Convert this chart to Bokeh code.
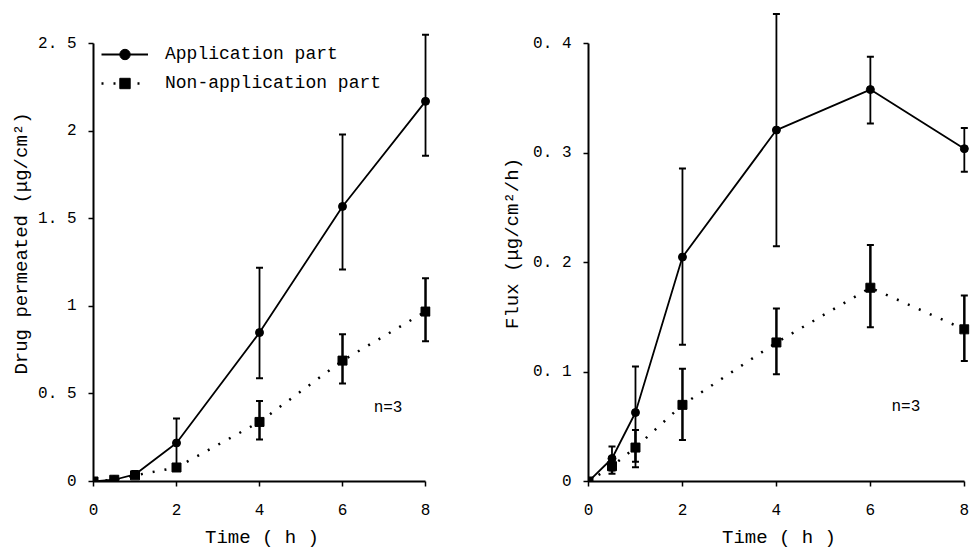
from bokeh.plotting import figure
from bokeh.models import (Range1d, FixedTicker, Whisker, TeeHead, ColumnDataSource,
                          Legend, LegendItem, Label)
from bokeh.layouts import row
from bokeh.embed import file_html
from bokeh.resources import INLINE

# ---- data ----
time = [0, 0.5, 1, 2, 4, 6, 8]

# cumulative drug permeated (ug/cm2)
perm_app = [0.0, 0.01, 0.04, 0.22, 0.85, 1.57, 2.17]
perm_app_hi = [0.0, 0.02, 0.06, 0.36, 1.22, 1.98, 2.55]
perm_app_lo = [0.0, 0.0, 0.02, 0.10, 0.59, 1.21, 1.86]
perm_non = [0.0, 0.01, 0.035, 0.08, 0.34, 0.69, 0.97]
perm_non_hi = [0.0, 0.02, 0.05, 0.10, 0.46, 0.84, 1.16]
perm_non_lo = [0.0, 0.0, 0.02, 0.06, 0.24, 0.56, 0.80]

# flux (ug/cm2/h)
flux_app = [0.0, 0.021, 0.063, 0.205, 0.321, 0.358, 0.304]
flux_app_hi = [0.0, 0.032, 0.105, 0.286, 0.427, 0.388, 0.323]
flux_app_lo = [0.0, 0.010, 0.013, 0.125, 0.215, 0.327, 0.283]
flux_non = [0.0, 0.014, 0.031, 0.070, 0.127, 0.177, 0.139]
flux_non_hi = [0.0, 0.022, 0.047, 0.103, 0.158, 0.216, 0.170]
flux_non_lo = [0.0, 0.007, 0.018, 0.038, 0.098, 0.141, 0.110]

x_ticks = [0, 2, 4, 6, 8]
perm_ticks = [0, 0.5, 1, 1.5, 2, 2.5]
perm_tick_labels = ["0", "0. 5", "1", "1. 5", "2", "2. 5"]
flux_ticks = [0, 0.1, 0.2, 0.3, 0.4]
flux_tick_labels = ["0", "0. 1", "0. 2", "0. 3", "0. 4"]

FONT = "Liberation Mono"


def make_panel(width, border_left, border_right, y_max, y_top, ticks, tick_labels,
               ylabel, ylabel_standoff, app, app_hi, app_lo, non, non_hi, non_lo,
               x_top, with_legend, n_x, n_y):
    p = figure(width=width, height=551, output_backend="svg", toolbar_location=None,
               min_border_left=border_left, min_border_right=border_right,
               min_border_top=5, min_border_bottom=70,
               x_range=Range1d(0, x_top), y_range=Range1d(0, y_top))
    p.outline_line_color = None
    p.xgrid.visible = False
    p.ygrid.visible = False
    p.background_fill_color = "white"
    p.border_fill_color = "white"

    for ax in (p.xaxis[0], p.yaxis[0]):
        ax.axis_line_width = 2
        ax.axis_line_color = "black"
        ax.major_tick_line_width = 1.5
        ax.major_tick_out = 5
        ax.major_tick_in = 0
        ax.minor_tick_line_color = None
        ax.major_label_text_font = FONT
        ax.major_label_text_font_size = "16px"
        ax.major_label_text_color = "black"
        ax.axis_label_text_font = FONT
        ax.axis_label_text_font_size = "19px"
        ax.axis_label_text_font_style = "normal"
        ax.axis_label_text_color = "black"

    p.xaxis.ticker = FixedTicker(ticks=x_ticks)
    p.xaxis.bounds = (0, 8)
    p.xaxis.axis_label = "Time ( h )"
    p.xaxis.major_label_standoff = 17
    p.xaxis.axis_label_standoff = 9

    p.yaxis.ticker = FixedTicker(ticks=ticks)
    p.yaxis.major_label_overrides = {t: l for t, l in zip(ticks, tick_labels)}
    p.yaxis.bounds = (0, y_max)
    p.yaxis.axis_label = ylabel
    p.yaxis.major_label_standoff = 12
    p.yaxis.axis_label_standoff = ylabel_standoff

    src_a = ColumnDataSource(dict(t=time, y=app, hi=app_hi, lo=app_lo))
    src_n = ColumnDataSource(dict(t=time, y=non, hi=non_hi, lo=non_lo))

    la = p.line("t", "y", source=src_a, line_color="black", line_width=1.8)
    ma = p.scatter("t", "y", source=src_a, marker="circle", size=8, color="black")
    ln = p.line("t", "y", source=src_n, line_color="black", line_width=2.5,
                line_dash="2 10")
    mn = p.scatter("t", "y", source=src_n, marker="square", size=9, color="black")

    for src, lw in ((src_a, 1.8), (src_n, 2.5)):
        p.add_layout(Whisker(source=src, base="t", upper="hi", lower="lo",
                             dimension="height", line_color="black", line_width=lw,
                             upper_head=TeeHead(size=7, line_width=2, line_color="black"),
                             lower_head=TeeHead(size=7, line_width=2, line_color="black")))

    if with_legend:
        leg = Legend(items=[LegendItem(label="Application part", renderers=[la, ma]),
                            LegendItem(label="Non-application part", renderers=[ln, mn])],
                     location=(8, 385), border_line_color=None,
                     background_fill_alpha=0, margin=0, padding=0,
                     glyph_width=47, glyph_height=26, spacing=3, label_standoff=17,
                     label_text_font=FONT, label_text_font_size="18px",
                     label_text_color="black")
        p.add_layout(leg)

    p.add_layout(Label(x=n_x, y=n_y, text="n=3", text_font=FONT,
                       text_font_size="16px", text_color="black",
                       text_baseline="middle"))
    return p


left = make_panel(480, 93, 50, 2.5, 2.717, perm_ticks, perm_tick_labels,
                  "Drug permeated (\u03bcg/cm\u00b2)", 2,
                  perm_app, perm_app_hi, perm_app_lo, perm_non, perm_non_hi, perm_non_lo,
                  8.12, True, 6.75, 0.42)
right = make_panel(491, 108, 2, 0.4, 0.4348, flux_ticks, flux_tick_labels,
                   "Flux (\u03bcg/cm\u00b2/h)", 6,
                   flux_app, flux_app_hi, flux_app_lo, flux_non, flux_non_hi, flux_non_lo,
                   8.11, False, 6.45, 0.068)

layout = row(left, right)
open("out.html", "w").write(file_html(layout, INLINE))
